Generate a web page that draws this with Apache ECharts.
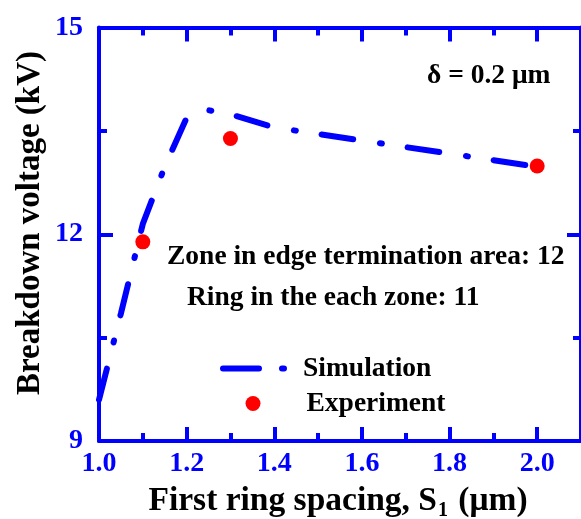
<!DOCTYPE html>
<html>
<head>
<meta charset="utf-8">
<script src="https://cdn.jsdelivr.net/npm/echarts@6/dist/echarts.min.js"></script>
<style>
html,body{margin:0;padding:0;background:#fff;}
#chart{width:581px;height:519px;}
</style>
</head>
<body>
<div id="chart"></div>
<script>
// Simulation curve
const simX = [1.0, 1.05, 1.1, 1.15, 1.2, 1.25, 1.3, 1.4, 2.0];
const simY = [9.6, 10.85, 12.15, 12.98, 13.69, 13.8, 13.74, 13.55, 12.98];
// Experiment points
const expX = [1.1, 1.3, 2.0];
const expY = [11.89, 13.39, 12.99];
// Axis ticks
const yTicks = [9, 12, 15];
const xTicks = [1.0, 1.2, 1.4, 1.6, 1.8, 2.0];
const seriesNames = ['Simulation', 'Experiment'];

const BLUE = '#0000ff';
const RED = '#ff0000';
const FONT = '"Liberation Serif", "Times New Roman", serif';

const chart = echarts.init(document.getElementById('chart'), null, {renderer: 'canvas'});

function xAxisCfg(pos, interval, tickLen, showLabel, showLine) {
  return {
    type: 'value', position: pos, min: 1.0, max: 2.1, interval: interval,
    axisLine: {show: showLine, onZero: false, lineStyle: {color: BLUE, width: 4}},
    axisTick: {show: true, inside: true, length: tickLen, lineStyle: {color: BLUE, width: 4}},
    axisLabel: {
      show: showLabel, margin: 9, color: BLUE, fontFamily: FONT, fontWeight: 'bold', fontSize: 28,
      showMaxLabel: false,
      formatter: v => xTicks.some(t => Math.abs(t - v) < 1e-6) ? v.toFixed(1) : ''
    },
    splitLine: {show: false}
  };
}

function yAxisCfg(pos, showLabel) {
  return {
    type: 'value', position: pos, min: 9, max: 15, interval: 3,
    axisLine: {show: true, onZero: false, lineStyle: {color: BLUE, width: 4}},
    axisTick: {show: true, inside: true, length: 14, lineStyle: {color: BLUE, width: 4}},
    minorTick: {show: true, splitNumber: 2, length: 8, lineStyle: {color: BLUE, width: 4}},
    axisLabel: {
      show: showLabel, margin: 16, color: BLUE, fontFamily: FONT, fontWeight: 'bold', fontSize: 28,
      formatter: v => yTicks.includes(v) ? String(v) : ''
    },
    splitLine: {show: false}
  };
}

const dashDotIcon = 'path://M3,0 L39,0 A3,3 0 0 1 39,6 L3,6 A3,3 0 0 1 3,0 Z M62,0 L64,0 A3,3 0 0 1 64,6 L62,6 A3,3 0 0 1 62,0 Z';

const option = {
  animation: false,
  backgroundColor: '#ffffff',
  grid: {left: 99, top: 27.5, width: 491.4, height: 413.5, containLabel: false},
  xAxis: [
    xAxisCfg('bottom', 0.2, 14, true, true),
    xAxisCfg('bottom', 0.1, 8, false, false),
    xAxisCfg('top', 0.2, 14, false, true),
    xAxisCfg('top', 0.1, 8, false, false)
  ],
  yAxis: [
    yAxisCfg('left', true),
    yAxisCfg('right', false)
  ],
  legend: [
    {
      orient: 'vertical', left: 220, top: 354.5, padding: 0,
      itemWidth: 67, itemHeight: 6,
      textStyle: {fontFamily: FONT, fontWeight: 'bold', fontSize: 27.5, color: '#000', padding: [0, 0, 0, 11]},
      data: [{name: seriesNames[0], icon: dashDotIcon, itemStyle: {color: BLUE}}]
    },
    {
      orient: 'vertical', left: 245.5, top: 389.5, padding: 0,
      itemWidth: 15, itemHeight: 15,
      textStyle: {fontFamily: FONT, fontWeight: 'bold', fontSize: 27.5, color: '#000', padding: [0, 0, 0, 41]},
      data: [{name: seriesNames[1], icon: 'circle'}]
    }
  ],
  series: [
    {
      name: seriesNames[0], type: 'line', xAxisIndex: 0, yAxisIndex: 0,
      data: simX.map((x, i) => [x, simY[i]]),
      showSymbol: false, symbol: 'none',
      lineStyle: {color: BLUE, width: 6, type: [32, 27, 2, 26], cap: 'round'},
      itemStyle: {color: BLUE},
      z: 2
    },
    {
      name: seriesNames[1], type: 'scatter', xAxisIndex: 0, yAxisIndex: 0,
      data: expX.map((x, i) => [x, expY[i]]),
      symbol: 'circle', symbolSize: 15,
      itemStyle: {color: RED, opacity: 1},
      z: 3
    }
  ],
  graphic: [
    {
      type: 'text', x: 427, y: 76,
      style: {text: 'δ = 0.2 μm', fill: '#000', font: 'bold 27.5px ' + FONT, textAlign: 'left', textVerticalAlign: 'middle'}
    },
    {
      type: 'text', x: 167, y: 257,
      style: {text: 'Zone in edge termination area: 12', fill: '#000', font: 'bold 27.5px ' + FONT, textAlign: 'left', textVerticalAlign: 'middle'}
    },
    {
      type: 'text', x: 187, y: 298,
      style: {text: 'Ring in the each zone: 11', fill: '#000', font: 'bold 27.5px ' + FONT, textAlign: 'left', textVerticalAlign: 'middle'}
    },
    {
      type: 'text', x: 30, y: 223, rotation: Math.PI / 2,
      style: {text: 'Breakdown voltage (kV)', fill: '#000', font: 'bold 33px ' + FONT, textAlign: 'center', textVerticalAlign: 'middle'}
    },
    {
      type: 'text', x: 338, y: 501,
      style: {
        text: '{m|First ring spacing, S}{s|1}{m| (μm)}',
        fill: '#000', font: 'bold 33.5px ' + FONT, textAlign: 'center', textVerticalAlign: 'middle',
        rich: {
          m: {fontFamily: FONT, fontWeight: 'bold', fontSize: 33.5, lineHeight: 33, verticalAlign: 'top', fill: '#000'},
          s: {fontFamily: FONT, fontWeight: 'bold', fontSize: 20, lineHeight: 20, verticalAlign: 'top', fill: '#000', padding: [16, 2, 0, 1]}
        }
      }
    }
  ]
};
chart.setOption(option);
</script>
</body>
</html>
